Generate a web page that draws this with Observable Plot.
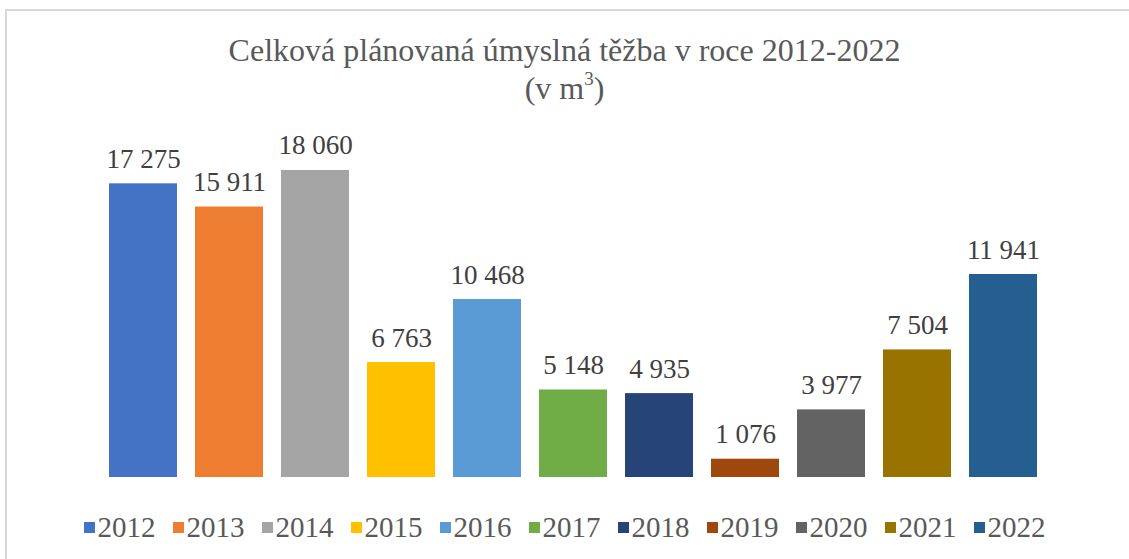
<!DOCTYPE html>
<html>
<head>
<meta charset="utf-8">
<script src="https://cdn.jsdelivr.net/npm/d3@7"></script>
<script src="https://cdn.jsdelivr.net/npm/@observablehq/plot@0.6"></script>
<style>
  html, body { margin: 0; padding: 0; background: #fff; }
  #wrap { position: relative; width: 1129px; height: 559px; overflow: hidden; font-family: "Liberation Serif", "Times New Roman", Times, serif; }
  #frame { position: absolute; left: 5px; top: 9px; width: 1200px; height: 700px; border-left: 2px solid #d9d9d9; border-top: 2px solid #d9d9d9; }
  #title { position: absolute; left: 0; width: 1129px; top: 31px; text-align: center; color: #595959; font-size: 32px; line-height: 38px; }
  #title sup { font-size: 19px; line-height: 0; position: relative; top: -2px; }
  #chart { position: absolute; left: 0; top: 0; }
  #legend { position: absolute; left: 0; width: 1129px; top: 511px; display: flex; justify-content: center; gap: 17px; color: #595959; font-size: 29px; line-height: 32px; }
  .item { display: flex; align-items: center; }
  .sw { width: 11px; height: 11px; margin-right: 3px; }
</style>
</head>
<body>
<div id="wrap">
  <div id="frame"></div>
  <div id="chart"></div>
  <div id="title">Celková plánovaná úmyslná těžba v roce 2012-2022<br>(v m<sup>3</sup>)</div>
  <div id="legend"></div>
</div>
<script>
const years = ["2012","2013","2014","2015","2016","2017","2018","2019","2020","2021","2022"];
const values = [17275, 15911, 18060, 6763, 10468, 5148, 4935, 1076, 3977, 7504, 11941];
const colors = ["#4472C4","#ED7D31","#A5A5A5","#FFC000","#5B9BD5","#70AD47","#264478","#9E480E","#636363","#997300","#255E91"];

const data = years.map((y, i) => ({year: y, value: values[i]}));
const fmt = v => d3.format(",")(v).replace(/,/g, "\u00a0");

const chart = Plot.plot({
  width: 1129,
  height: 559,
  marginTop: 137,
  marginBottom: 82,
  marginLeft: 100,
  marginRight: 83,
  x: {domain: years, paddingInner: 0.21, paddingOuter: 0.105, axis: null},
  y: {domain: [0, 20000], axis: null},
  color: {domain: years, range: colors},
  style: {background: "transparent", fontFamily: "'Liberation Serif', 'Times New Roman', Times, serif"},
  marks: [
    Plot.barY(data, {x: "year", y: "value", fill: "year"}),
    Plot.text(data, {x: "year", y: "value", text: d => fmt(d.value), lineAnchor: "bottom", dy: -16, fontSize: 27, fill: "#404040"})
  ]
});
document.getElementById("chart").appendChild(chart);

const legend = document.getElementById("legend");
years.forEach((y, i) => {
  const item = document.createElement("div");
  item.className = "item";
  const sw = document.createElement("div");
  sw.className = "sw";
  sw.style.background = colors[i];
  const t = document.createElement("span");
  t.textContent = y;
  item.appendChild(sw);
  item.appendChild(t);
  legend.appendChild(item);
});
</script>
</body>
</html>
